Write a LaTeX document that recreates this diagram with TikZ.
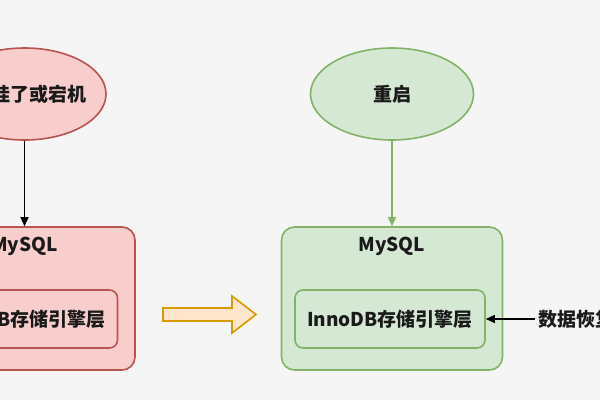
\documentclass[tikz,border=0pt]{standalone}
\usepackage{fontspec}
\setmainfont{Noto Sans CJK SC}
\usetikzlibrary{shapes.geometric,arrows.meta,positioning,calc}
\definecolor{bg}{HTML}{F5F5F5}
\definecolor{redfill}{HTML}{F8CECC}
\definecolor{redline}{HTML}{B85450}
\definecolor{greenfill}{HTML}{D5E8D4}
\definecolor{greenline}{HTML}{82B366}
\definecolor{orangefill}{HTML}{FFE6CC}
\definecolor{orangeline}{HTML}{D79B00}
\definecolor{ink}{HTML}{1A1A1A}

\begin{document}
\begin{tikzpicture}[x=1pt,y=-1pt,
  txt/.style={font=\bfseries\fontsize{19}{22}\selectfont,text=ink},
  oval/.style={ellipse,line width=1.6pt,minimum width=163pt,minimum height=92pt,inner sep=0pt},
  server/.style={rounded corners=13pt,line width=1.6pt,minimum width=221pt,minimum height=143pt},
  engine/.style={rounded corners=8pt,line width=1.6pt,minimum width=190pt,minimum height=58pt,txt},
  link/.style={line width=1.4pt,-{Triangle[length=9pt,width=8pt]}}]
\clip (0,0) rectangle (600,400);
\fill[bg] (0,0) rectangle (600,400);
% before: crash
\node[oval,draw=redline,fill=redfill] (crash) at (24.5,94) {};
\node[txt,anchor=east] (crashlbl) at (90,94) {挂了或宕机};
\node[server,draw=redline,fill=redfill] (db1) at (24.5,298.5) {};
\node[txt] (sql1) at ($(db1.north)+(0,20)$) {MySQL};
\node[engine,draw=redline,fill=redfill] (eng1) at (22.5,319) {InnoDB存储引擎层};
\draw[link,draw=black] (crash) -- (db1);
% after: restart
\node[oval,draw=greenline,fill=greenfill,txt] (restart) at (392,94) {重启};
\node[server,draw=greenline,fill=greenfill] (db2) at (392,298.5) {};
\node[txt] (sql2) at ($(db2.north)+(0,20)$) {MySQL};
\node[engine,draw=greenline,fill=greenfill] (eng2) at (390,319) {InnoDB存储引擎层};
\draw[link,draw=greenline,fill=greenline] (restart) -- (db2);
\node[txt,anchor=west] (recover) at (535,319) {数据恢复};
\draw[link] (recover) -- (eng2);
% hollow arrow
\draw[draw=orangeline,fill=orangefill,line width=1.6pt,line join=miter]
  (163,308) -- (232,308) -- (232,296) -- (256,314.5) -- (232,333) -- (232,321) -- (163,321) -- cycle;
\end{tikzpicture}
\end{document}
